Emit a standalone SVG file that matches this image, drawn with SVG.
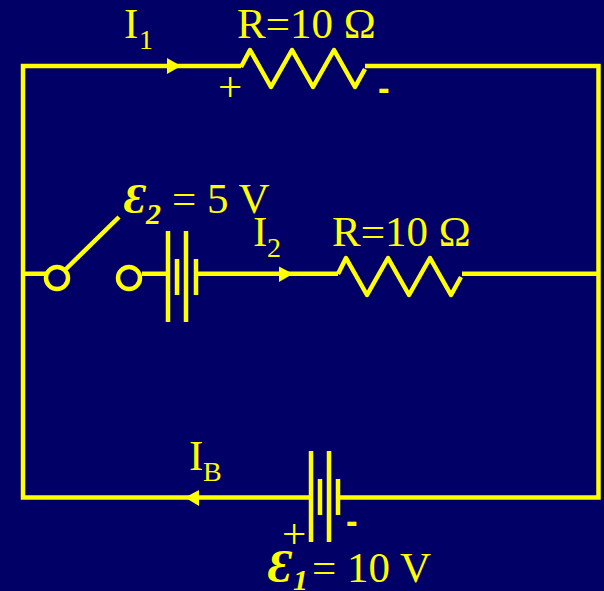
<svg xmlns="http://www.w3.org/2000/svg" width="604" height="591" viewBox="0 0 604 591">
<style>
.w{fill:none;stroke:#ffff00;stroke-width:4.500}
.r{fill:none;stroke:#ffff00;stroke-width:4.500;stroke-linejoin:round}
.a{fill:#ffff00}
.t{font-family:"Liberation Serif",serif;fill:#ffff00;font-size:43px}
.s{font-family:"Liberation Serif",serif;fill:#ffff00;font-size:28px}
.e{font-family:"Liberation Serif",serif;font-style:italic;font-weight:bold;fill:#ffff00;font-size:42px}
.n{font-family:"Liberation Serif",serif;font-style:italic;font-weight:bold;fill:#ffff00;font-size:30px}
.m{font-family:"Liberation Sans",sans-serif;font-weight:bold;font-size:35px;fill:#ffff00}
</style>
<rect width="604" height="591" fill="#000066"/>
<g id="connectors">
<path class="w" d="M241 66H23M23 63.800V497.500H309M23 273.700H46M142 273.700H166M198 273.700H338M462 273.700H599M365 66H599M598.500 63.800V497.500H340"/>
<path class="a" d="M167 58L181 66L167 74Z"/>
<path class="a" d="M279 266.500L293 273.700L279 282Z"/>
<path class="a" d="M199 490L185 497.500L199 506Z"/>
</g>
<g id="resistor-1"><path class="r" d="M241 67L250 50L271 87L292 50L313 87L334 50L355 87L365 69"/>
<text class="t" x="237" y="38">R=10 Ω</text>
<text class="t" x="218" y="101">+</text>
<text class="m" x="378" y="100">-</text></g>
<g id="current-1"><text class="t" x="124" y="38">I</text><text class="s" x="139" y="49">1</text></g>
<g id="switch"><circle class="w" cx="57" cy="278" r="11"/><circle class="w" cx="129" cy="278" r="11"/><path class="w" d="M66 269L119 217"/></g>
<g id="battery-2">
<path class="w" d="M168 231V322M186 231V322M177 259V295M196 259V295"/>
<text class="e" x="124" y="213">Ɛ</text><text class="n" x="146" y="224">2</text>
<text class="t" x="172" y="213">= 5 V</text>
</g>
<g id="current-2"><text class="t" x="253" y="246">I</text><text class="s" x="267" y="257">2</text></g>
<g id="resistor-2"><path class="r" d="M338 274L346 258L367 295L388 258L409 295L430 258L451 295L461 277"/>
<text class="t" x="332" y="246">R=10 Ω</text></g>
<g id="battery-1">
<path class="w" d="M311 451V542M329 451V542M320 479V515M338 479V515"/>
<text x="282" y="548" class="t">+</text>
<text x="346" y="533" class="m">-</text>
<text class="e" x="268" y="582" style="font-size:46px">Ɛ</text><text class="n" x="293" y="590">1</text>
<text class="t" x="312" y="582">= 10 V</text>
</g>
<g id="current-b"><text class="t" x="189" y="470">I</text><text class="s" x="203" y="481">B</text></g>
</svg>
